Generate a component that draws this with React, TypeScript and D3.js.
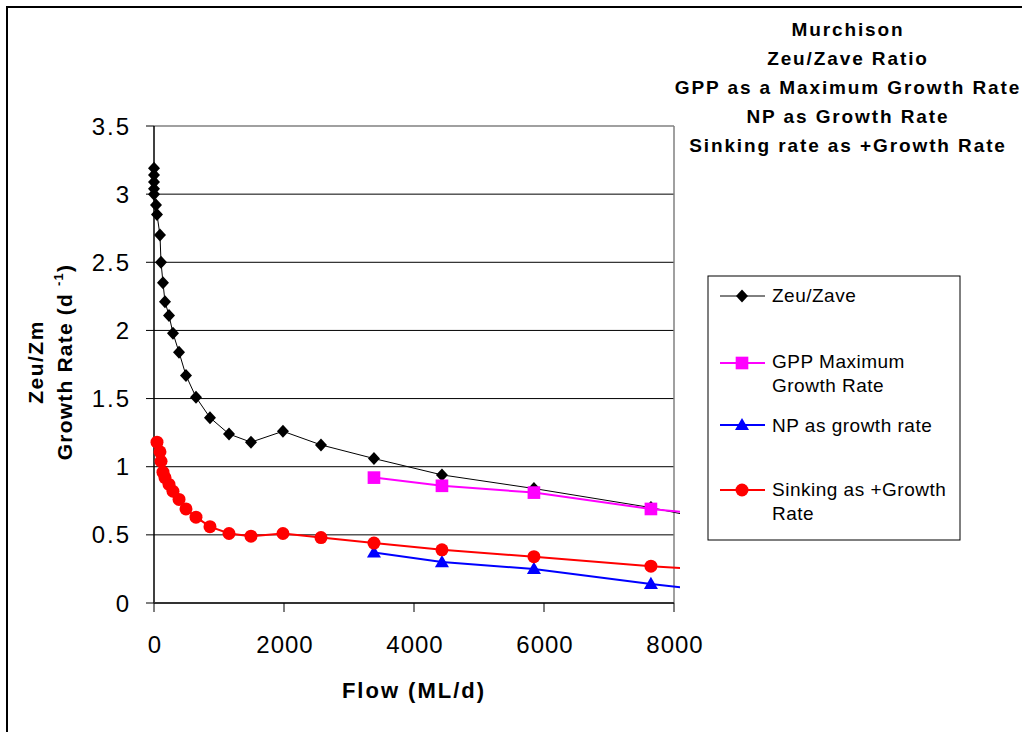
import React from "react";
import * as d3 from "d3";

// ---- data ----
const flowZeu = [0, 0, 0, 0, 0, 31, 46, 92, 108, 138, 169, 231, 292, 385, 492, 646, 861, 1154, 1492, 1984, 2569, 3384, 4430, 5845, 7645, 10000];
const zeuValues = [3.19, 3.14, 3.09, 3.04, 3.0, 2.92, 2.85, 2.7, 2.5, 2.35, 2.21, 2.11, 1.98, 1.84, 1.67, 1.51, 1.36, 1.24, 1.18, 1.26, 1.16, 1.06, 0.94, 0.84, 0.7, 0.47];

const flowSinking = [46, 92, 108, 138, 169, 231, 292, 385, 492, 646, 861, 1154, 1492, 1984, 2569, 3384, 4430, 5845, 7645, 10000];
const sinkingValues = [1.18, 1.11, 1.04, 0.96, 0.92, 0.87, 0.82, 0.76, 0.69, 0.63, 0.56, 0.51, 0.49, 0.51, 0.48, 0.44, 0.39, 0.34, 0.27, 0.2];

const flowHigh = [3384, 4430, 5845, 7645, 10000];
const gppValues = [0.92, 0.86, 0.81, 0.69, 0.58];
const npValues = [0.37, 0.3, 0.25, 0.14, 0.01];

const xTicks = [0, 2000, 4000, 6000, 8000];
const yTicks = [0, 0.5, 1, 1.5, 2, 2.5, 3, 3.5];
const titleLines = ["Murchison", "Zeu/Zave Ratio", "GPP as a Maximum Growth Rate", "NP as Growth Rate", "Sinking rate as +Growth Rate"];

const FONT = "'Liberation Sans', Arial, sans-serif";

export default function App() {
  const left = 154, right = 674, top = 126, bottom = 603;
  const x = d3.scaleLinear().domain([0, 8000]).range([left, right]);
  const y = d3.scaleLinear().domain([0, 3.5]).range([bottom, top]);

  const mk = (xs: number[], ys: number[]) => xs.map((f, i) => [f, ys[i]] as [number, number]);
  const zeu = mk(flowZeu, zeuValues);
  const sink = mk(flowSinking, sinkingValues);
  const gpp = mk(flowHigh, gppValues);
  const np = mk(flowHigh, npValues);

  const line = d3.line<[number, number]>().x(d => x(d[0])).y(d => y(d[1]));
  const vis = (pts: [number, number][]) => pts.filter(p => p[0] <= 8000);

  const diamond = "M0,-6.5L6,0L0,6.5L-6,0Z";
  const square = d3.symbol().type(d3.symbolSquare).size(160)()!;
  const triangle = d3.symbol().type(d3.symbolTriangle).size(85)()!;

  const legendItems = [
    { lines: ["Zeu/Zave"], color: "#000000", width: 1, shape: "diamond", my: 296, ty: [302] },
    { lines: ["GPP Maximum", "Growth Rate"], color: "#FF00FF", width: 2, shape: "square", my: 363, ty: [368, 392] },
    { lines: ["NP as growth rate"], color: "#0000FF", width: 2, shape: "triangle", my: 425, ty: [432] },
    { lines: ["Sinking as +Growth", "Rate"], color: "#FF0000", width: 2, shape: "circle", my: 490, ty: [496, 520] },
  ];

  const marker = (shape: string, color: string, cx: number, cy: number, key: any) => {
    if (shape === "circle") return <circle key={key} cx={cx} cy={cy} r={6.5} fill={color} />;
    const p = shape === "diamond" ? diamond : shape === "square" ? square : triangle;
    const dy = shape === "triangle" ? 1 : 0;
    return <path key={key} d={p} transform={`translate(${cx},${cy + dy})`} fill={color} />;
  };

  return (
    <svg width={1022} height={732} style={{ position: "absolute", left: 0, top: 0, background: "#fff" }} fontFamily={FONT}>
      <defs>
        <clipPath id="plotclip">
          <rect x={left - 10} y={top - 10} width={680 - left + 10} height={bottom - top + 20} />
        </clipPath>
      </defs>
      {/* outer chart frame */}
      <rect x={7} y={7} width={1100} height={800} fill="none" stroke="#000" strokeWidth={2} />

      {/* gridlines */}
      {yTicks.filter(t => t > 0 && t < 3.5).map(t => (
        <line key={t} x1={left} x2={right} y1={y(t)} y2={y(t)} stroke="#000" strokeWidth={1} />
      ))}
      {/* plot frame top/right */}
      <line x1={left} x2={right} y1={top} y2={top} stroke="#808080" strokeWidth={1.5} />
      <line x1={right} x2={right} y1={top} y2={bottom} stroke="#808080" strokeWidth={1.5} />

      {/* axes */}
      <line x1={left} x2={left} y1={top} y2={bottom} stroke="#000" strokeWidth={1.5} />
      <line x1={left} x2={right} y1={bottom} y2={bottom} stroke="#333" strokeWidth={2} />
      {yTicks.map(t => (
        <g key={t}>
          <line x1={left - 8} x2={left} y1={y(t)} y2={y(t)} stroke="#000" strokeWidth={1} />
          <text x={131} y={y(t) + 8.5} textAnchor="end" fontSize={24} letterSpacing={2}>{String(t)}</text>
        </g>
      ))}
      {xTicks.map(t => (
        <g key={t}>
          <line x1={x(t)} x2={x(t)} y1={bottom} y2={bottom + 9} stroke="#000" strokeWidth={1} />
          <text x={x(t) + 1} y={653} textAnchor="middle" fontSize={24} letterSpacing={1}>{String(t)}</text>
        </g>
      ))}

      {/* axis titles */}
      <text x={414} y={698} textAnchor="middle" fontSize={22} fontWeight="bold" letterSpacing={2}>Flow (ML/d)</text>
      <text transform="translate(43,362) rotate(-90)" textAnchor="middle" fontSize={21} fontWeight="bold" letterSpacing={1.5}>Zeu/Zm</text>
      <text transform="translate(72,362) rotate(-90)" textAnchor="middle" fontSize={21} fontWeight="bold" letterSpacing={1.2}>
        Growth Rate (d <tspan fontSize={13} dy={-9}>-1</tspan><tspan dy={9}>)</tspan>
      </text>

      {/* series */}
      <g clipPath="url(#plotclip)">
        <path d={line(zeu)!} fill="none" stroke="#000" strokeWidth={1} />
        <path d={line(gpp)!} fill="none" stroke="#FF00FF" strokeWidth={2} />
        <path d={line(np)!} fill="none" stroke="#0000FF" strokeWidth={2} />
        <path d={line(sink)!} fill="none" stroke="#FF0000" strokeWidth={2} />
      </g>
      {vis(zeu).map((p, i) => marker("diamond", "#000", x(p[0]), y(p[1]), "z" + i))}
      {vis(gpp).map((p, i) => marker("square", "#FF00FF", x(p[0]), y(p[1]), "g" + i))}
      {vis(np).map((p, i) => marker("triangle", "#0000FF", x(p[0]), y(p[1]), "n" + i))}
      {vis(sink).map((p, i) => marker("circle", "#FF0000", x(p[0]), y(p[1]), "s" + i))}

      {/* title */}
      {titleLines.map((t, i) => (
        <text key={i} x={848} y={36 + i * 29} textAnchor="middle" fontSize={19} fontWeight="bold" letterSpacing={1.9}>{t}</text>
      ))}

      {/* legend */}
      <rect x={708} y={276} width={252} height={264} fill="#fff" stroke="#000" strokeWidth={1} />
      {legendItems.map((it, i) => (
        <g key={i}>
          <line x1={720} x2={765} y1={it.my} y2={it.my} stroke={it.color} strokeWidth={it.width} />
          {marker(it.shape, it.color, 742, it.my, "m")}
          {it.lines.map((l, j) => (
            <text key={j} x={772} y={it.ty[j]} fontSize={19} letterSpacing={0.5}>{l}</text>
          ))}
        </g>
      ))}
    </svg>
  );
}
